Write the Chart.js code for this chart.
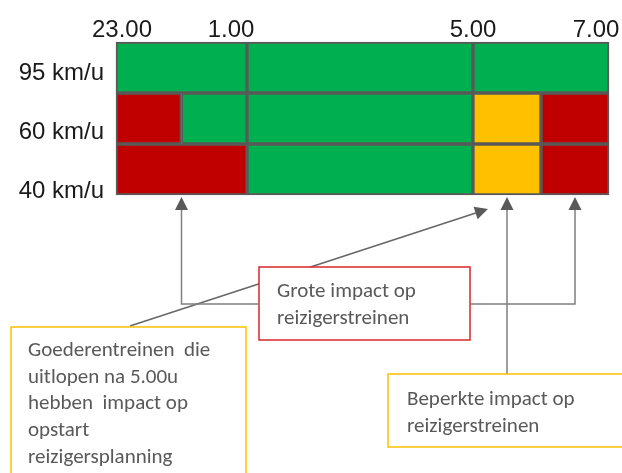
<!DOCTYPE html>
<html>
<head>
<meta charset="utf-8">
<script src="https://cdn.jsdelivr.net/npm/chart.js@4.4.0/dist/chart.umd.min.js"></script>
<style>
  html, body { margin: 0; padding: 0; background: #fff; }
  #wrap { width: 622px; height: 473px; position: relative; }
</style>
</head>
<body>
<div id="wrap"><canvas id="Snelheid-chart"></canvas></div>
<script>
// uren geteld vanaf 23.00 (0 = 23.00, 8 = 7.00)
const SNELHEDEN = ["95 km/u", "60 km/u", "40 km/u"]
const TIJD_LABELS = ["23.00", "1.00", "5.00", "7.00"]
const TIJD_UREN = [0, 2, 6, 8]

// vakken per rij: [begin, einde] in uren, null = geen vak in die rij
const ROOD_NACHT    = [null, [0, 1], [0, 2]]
const GROEN_NACHT   = [[0, 2], [1, 2], null]
const GROEN_MIDDEN  = [[2, 6], [2, 6], [2, 6]]
const ORANJE        = [null, [6, 7], [6, 7]]
const GROEN_OCHTEND = [[6, 8], null, null]
const ROOD_OCHTEND  = [null, [7, 8], [7, 8]]

// waar de pijlen naar wijzen (uren)
const PIJL_GROOT = [1, 7.5]
const PIJL_BEPERKT = 6.5
const PIJL_GOEDEREN = 6.22

const GROEN = "#00b050", ROOD = "#c00000", GEEL = "#ffc000", RAND = "#595959"

// de tekening is niet lineair in de tijd: elk blok heeft zijn eigen breedte
const KNIKKEN = [0, 0.2657, 0.7241, 1]

class TijdSchaal extends Chart.LinearScale {
    getPixelForValue(value) {
        if (value === null || value === undefined) return NaN
        let n = TIJD_UREN.length - 1
        let dec = 1
        for (let i = 0; i < n; i++) {
            let a = TIJD_UREN[i], b = TIJD_UREN[i + 1]
            if (value <= b || i == n - 1) {
                dec = KNIKKEN[i] + (value - a) / (b - a) * (KNIKKEN[i + 1] - KNIKKEN[i])
                break
            }
        }
        return this.getPixelForDecimal(dec)
    }
    getValueForPixel(pixel) {
        let dec = this.getDecimalForPixel(pixel)
        let n = KNIKKEN.length - 1
        for (let i = 0; i < n; i++) {
            if (dec <= KNIKKEN[i + 1] || i == n - 1) {
                return TIJD_UREN[i] + (dec - KNIKKEN[i]) / (KNIKKEN[i + 1] - KNIKKEN[i]) * (TIJD_UREN[i + 1] - TIJD_UREN[i])
            }
        }
    }
}
TijdSchaal.id = "tijd"
TijdSchaal.defaults = Chart.LinearScale.defaults
Chart.register(TijdSchaal)

function vak(data, kleur) {
    return {
        data: data,
        backgroundColor: kleur,
        borderColor: RAND,
        borderWidth: 2,
        borderSkipped: false,
        barPercentage: 1,
        categoryPercentage: 1,
        grouped: false,
        clip: false
    }
}

function pijlpunt(ctx, x, y, hoek) {
    // punt op (x, y), hoek = richting waarin de pijl wijst
    ctx.save()
    ctx.translate(x, y)
    ctx.rotate(hoek)
    ctx.beginPath()
    ctx.moveTo(0, 0)
    ctx.lineTo(-13, -6.5)
    ctx.lineTo(-13, 6.5)
    ctx.closePath()
    ctx.fillStyle = "#595959"
    ctx.fill()
    ctx.restore()
}

function lijn(ctx, punten) {
    ctx.beginPath()
    ctx.moveTo(punten[0][0], punten[0][1])
    for (let p of punten.slice(1)) ctx.lineTo(p[0], p[1])
    ctx.stroke()
}

function kader(ctx, x, y, w, h, kleur) {
    ctx.fillStyle = "#fff"
    ctx.fillRect(x, y, w, h)
    ctx.strokeStyle = kleur
    ctx.lineWidth = 1.5
    ctx.strokeRect(x, y, w, h)
}

function tekst(ctx, regels, x, y) {
    ctx.fillStyle = "#595959"
    ctx.font = "21px Carlito, Lato, sans-serif"
    ctx.textAlign = "left"
    ctx.textBaseline = "alphabetic"
    regels.forEach((r, i) => ctx.fillText(r, x, y + i * 26.7))
}

// verschuiving van de tijdlabels en zakking van de rijlabels zoals op de dia
const TIJD_SCHUIF = [6, -16, 0, -13]
const RIJ_ZAK = [12, 20, 28]

const teksten = {
    id: "teksten",
    afterDraw(chart) {
        const ctx = chart.ctx, sx = chart.scales.x, sy = chart.scales.y
        const area = chart.chartArea
        ctx.save()

        // as-labels
        ctx.fillStyle = "#1a1a1a"
        ctx.font = "24px 'Liberation Sans', Arial, sans-serif"
        ctx.textAlign = "center"
        ctx.textBaseline = "alphabetic"
        TIJD_LABELS.forEach((t, i) => ctx.fillText(t, sx.getPixelForValue(TIJD_UREN[i]) + TIJD_SCHUIF[i], area.top - 5))
        ctx.textAlign = "right"
        SNELHEDEN.forEach((s, i) => ctx.fillText(s, area.left - 12, sy.getPixelForValue(i) + RIJ_ZAK[i]))

        let tipY = area.bottom + 2
        let voetY = tipY + 13
        let xLinks = sx.getPixelForValue(PIJL_GROOT[0])
        let xRechts = sx.getPixelForValue(PIJL_GROOT[1])
        let xBeperkt = sx.getPixelForValue(PIJL_BEPERKT)
        let xGoed = sx.getPixelForValue(PIJL_GOEDEREN)

        // schuine pijl van goederentreinen
        let start = [130, 326], eind = [xGoed, area.bottom + 14]
        let hoek = Math.atan2(eind[1] - start[1], eind[0] - start[0])
        ctx.strokeStyle = "#666666"
        ctx.lineWidth = 1.5
        lijn(ctx, [start, [eind[0] - 12 * Math.cos(hoek), eind[1] - 12 * Math.sin(hoek)]])
        pijlpunt(ctx, eind[0], eind[1], hoek)

        // grote impact
        kader(ctx, 259, 267, 211, 73, "#d9262b")
        ctx.strokeStyle = "#7f7f7f"
        ctx.lineWidth = 1.5
        lijn(ctx, [[xLinks, voetY], [xLinks, 304], [259, 304]])
        lijn(ctx, [[470, 304], [xRechts, 304], [xRechts, voetY]])
        pijlpunt(ctx, xLinks, tipY, -Math.PI / 2)
        pijlpunt(ctx, xRechts, tipY, -Math.PI / 2)

        // beperkte impact
        ctx.strokeStyle = "#7f7f7f"
        lijn(ctx, [[xBeperkt, voetY], [xBeperkt, 374]])
        pijlpunt(ctx, xBeperkt, tipY, -Math.PI / 2)

        kader(ctx, 11, 327, 235, 200, GEEL)
        kader(ctx, 388, 374, 300, 73, GEEL)

        tekst(ctx, ["Grote impact op", "reizigerstreinen"], 277, 297)
        tekst(ctx, ["Goederentreinen  die", "uitlopen na 5.00u", "hebben  impact op", "opstart", "reizigersplanning"], 28, 356)
        tekst(ctx, ["Beperkte impact op", "reizigerstreinen"], 407, 405)

        ctx.restore()
    }
}

new Chart(document.getElementById("Snelheid-chart"), {
    type: "bar",
    data: {
        labels: SNELHEDEN,
        datasets: [
            vak(ROOD_NACHT, ROOD),
            vak(GROEN_NACHT, GROEN),
            vak(GROEN_MIDDEN, GROEN),
            vak(ORANJE, GEEL),
            vak(GROEN_OCHTEND, GROEN),
            vak(ROOD_OCHTEND, ROOD)
        ]
    },
    options: {
        indexAxis: "y",
        responsive: true,
        maintainAspectRatio: false,
        animation: false,
        layout: { padding: { left: 116, right: 13, top: 42, bottom: 278 } },
        plugins: {
            legend: { display: false },
            tooltip: { enabled: false }
        },
        scales: {
            x: { type: "tijd", min: 0, max: 8, display: false },
            y: { type: "category", display: false, offset: true }
        }
    },
    plugins: [teksten]
});
</script>
</body>
</html>
